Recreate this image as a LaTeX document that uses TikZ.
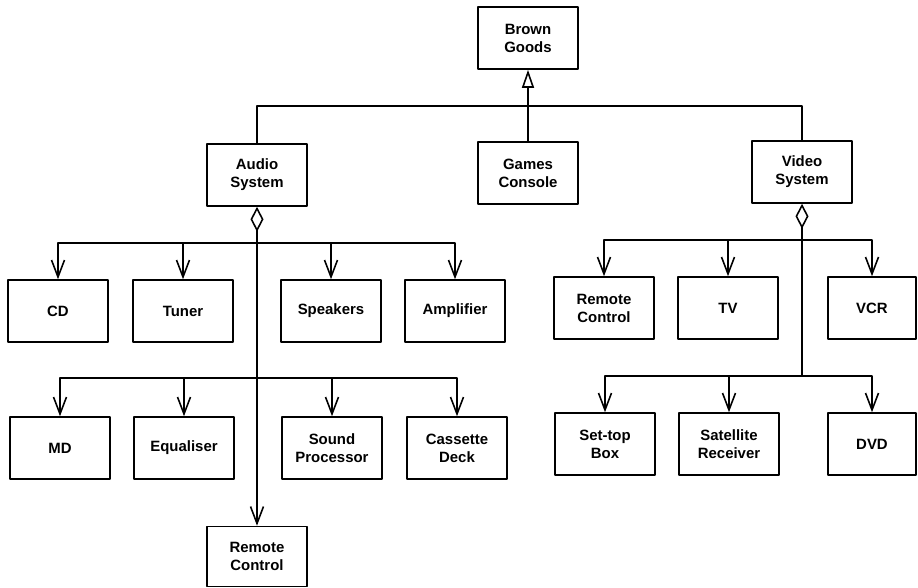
\documentclass[tikz,border=0pt]{standalone}
\usepackage{fontspec}
\setmainfont{Liberation Sans}
\usetikzlibrary{arrows.meta}
\begin{document}
\begin{tikzpicture}[font=\fontsize{8.5}{10.2}\selectfont\bfseries, line join=round, line width=0.9pt,
	>={Straight Barb[length=3.4mm, width=2.6mm]},
	box/.style={draw, fill=white, minimum width=2cm, minimum height=1.24cm, inner sep=0pt, align=center},
	isa/.style={-{Triangle[open, length=3.6mm, width=2.4mm]}},
	hasa/.style={{Diamond[open, length=5mm, width=2.6mm]}-}]
	\useasboundingbox (0, 0) rectangle (18.36, -11.74);
	% top of the hierarchy
	\node[box] (brown) at (10.56, -0.76) {Brown\\Goods};
	\node[box] (audio) at (5.14, -3.5) {Audio\\System};
	\node[box] (games) at (10.56, -3.46) {Games\\Console};
	\node[box] (video) at (16.04, -3.44) {Video\\System};
	% audio parts
	\node[box] (cd) at (1.16, -6.22) {CD};
	\node[box] (tuner) at (3.66, -6.22) {Tuner};
	\node[box] (speakers) at (6.62, -6.22) {Speakers};
	\node[box] (amp) at (9.10, -6.22) {Amplifier};
	\node[box] (md) at (1.2, -8.96) {MD};
	\node[box] (eq) at (3.68, -8.96) {Equaliser};
	\node[box] (sound) at (6.64, -8.96) {Sound\\Processor};
	\node[box] (cassette) at (9.14, -8.96) {Cassette\\Deck};
	\node[box, minimum height=1.2cm] (arc) at (5.14, -11.13) {Remote\\Control};
	% video parts
	\node[box] (vrc) at (12.08, -6.16) {Remote\\Control};
	\node[box] (tv) at (14.56, -6.16) {TV};
	\node[box, minimum width=1.76cm] (vcr) at (17.44, -6.16) {VCR};
	\node[box] (stb) at (12.1, -8.88) {Set-top\\Box};
	\node[box] (sat) at (14.58, -8.88) {Satellite\\Receiver};
	\node[box, minimum width=1.76cm] (dvd) at (17.44, -8.88) {DVD};
	% bus points
	\coordinate (gbus) at (10.56, -2.12);
	\coordinate (abus1) at (5.14, -4.86);
	\coordinate (abus2) at (5.14, -7.56);
	\coordinate (vbus1) at (16.04, -4.8);
	\coordinate (vbus2) at (16.04, -7.52);
	% generalisation
	\draw[isa] (games.north) -- (brown.south);
	\draw (audio.north) |- (gbus) -| (video.north);
	% audio aggregation
	\draw[hasa] (audio.south) -- (abus1);
	\draw (abus1) -- (abus2);
	\draw[->] (abus2) -- (arc.north);
	\foreach \n in {cd, tuner, speakers, amp}
		\draw[->] (abus1) -| (\n.north);
	\foreach \n in {md, eq, sound, cassette}
		\draw[->] (abus2) -| (\n.north);
	% video aggregation
	\draw[hasa] (video.south) -- (vbus1);
	\draw (vbus1) -- (vbus2);
	\foreach \n in {vrc, tv, vcr}
		\draw[->] (vbus1) -| (\n.north);
	\foreach \n in {stb, sat, dvd}
		\draw[->] (vbus2) -| (\n.north);
\end{tikzpicture}
\end{document}
